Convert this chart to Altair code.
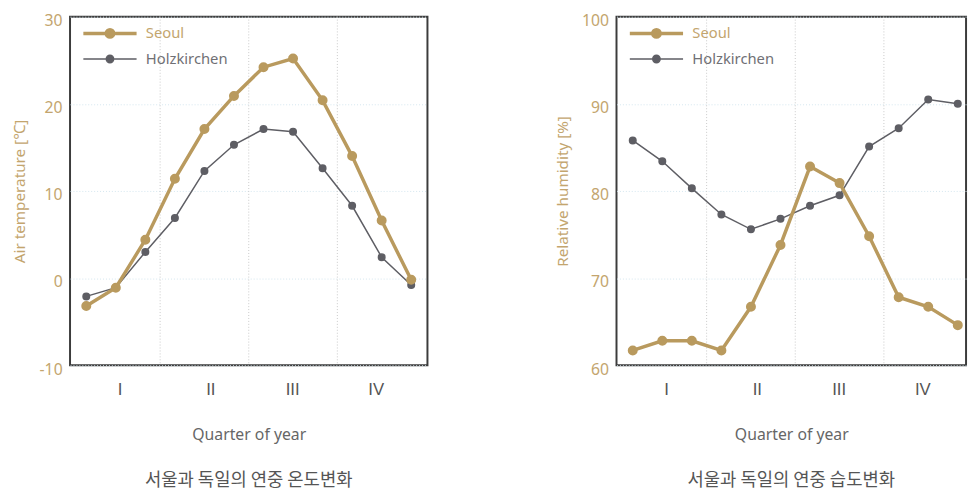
import altair as alt
import pandas as pd

# ---------------- data ----------------
months = list(range(1, 13))
cities = ["Seoul", "Holzkirchen"]
seoul_temp = [-3.2, -1.1, 4.4, 11.4, 17.1, 20.9, 24.2, 25.2, 20.4, 14.0, 6.6, -0.2]
holz_temp = [-2.1, -1.1, 3.0, 6.9, 12.3, 15.3, 17.1, 16.8, 12.6, 8.3, 2.4, -0.8]
seoul_rh = [61.7, 62.8, 62.8, 61.7, 66.7, 73.8, 82.8, 80.9, 74.8, 67.8, 66.7, 64.6]
holz_rh = [85.8, 83.4, 80.3, 77.3, 75.6, 76.8, 78.3, 79.5, 85.1, 87.2, 90.5, 90.0]
temp_ticks = [-10, 0, 10, 20, 30]
rh_ticks = [60, 70, 80, 90, 100]
quarter_labels = ["I", "II", "III", "IV"]
quarter_label_pos = [2.13, 5.2, 7.97, 10.8]
quarter_bounds = [3.5, 6.5, 9.5]
x_title = "Quarter of year"
temp_title = "Air temperature [℃]"
rh_title = "Relative humidity [%]"
temp_caption = "서울과 독일의 연중 온도변화"
rh_caption = "서울과 독일의 연중 습도변화"

# ---------------- style ----------------
GOLD = "#b99a5e"
GOLD_TXT = "#c3a56e"
GRAY = "#5e5e64"
LATIN = "Noto Sans"
KR = "Noto Sans CJK KR"
LEFT_X_DOMAIN = [0.45, 12.55]
RIGHT_X_DOMAIN = [0.45, 12.28]
# legend glyph: a line with a dot in its middle (shifted right so it is not clipped)
LEGEND_PATH = "M-1.5,0H14.8M7.78,0A1.13,1.13,0,1,1,5.52,0A1.13,1.13,0,1,1,7.78,0Z"

label_expr = (
    f"datum.value < {quarter_bounds[0]} ? '{quarter_labels[0]}' : "
    f"datum.value < {quarter_bounds[1]} ? '{quarter_labels[1]}' : "
    f"datum.value < {quarter_bounds[2]} ? '{quarter_labels[2]}' : '{quarter_labels[3]}'"
)


def panel(seoul, holz, ydom, yticks, ytitle, caption, xdom, width):
    df = pd.DataFrame({
        "month": months * 2,
        "value": holz + seoul,
        "city": [cities[1]] * len(months) + [cities[0]] * len(months),
    })
    xscale = alt.Scale(domain=xdom, nice=False, zero=False)
    yscale = alt.Scale(domain=ydom, nice=False, zero=False)
    cscale = alt.Scale(domain=cities, range=[GOLD, GRAY])
    wscale = alt.Scale(domain=cities, range=[3.5, 1.5])
    xaxis = alt.Axis(
        values=quarter_label_pos, labelExpr=label_expr, title=x_title,
        grid=False, ticks=False, domain=False,
        labelFont="Liberation Sans", labelFontSize=17, labelColor="#555555", labelPadding=17,
        titleFont=LATIN, titleFontSize=16, titleFontWeight="normal", titleColor="#666666",
        titlePadding=29,
    )
    yaxis = alt.Axis(
        values=yticks, title=ytitle, grid=True, gridColor="#d3e6ef", gridDash=[1, 2],
        ticks=False, domain=False, labelExpr="toString(datum.value)",
        labelFont=LATIN, labelFontSize=16, labelColor=GOLD_TXT, labelPadding=8, labelOffset=4,
        titleFont=LATIN, titleFontSize=15.5, titleFontWeight="normal", titleColor=GOLD_TXT,
        titlePadding=11.5,
    )
    x = alt.X("month:Q", scale=xscale, axis=xaxis)
    y = alt.Y("value:Q", scale=yscale, axis=yaxis)

    rules = alt.Chart(pd.DataFrame({"month": quarter_bounds})).mark_rule(
        color="#c9c9c9", strokeDash=[1, 2], strokeWidth=1
    ).encode(x=x)

    is_seoul = alt.datum.city == cities[0]
    lines = alt.Chart(df).mark_line().encode(
        x=x, y=y,
        detail="city:N",
        color=alt.condition(is_seoul, alt.value(GOLD), alt.value(GRAY)),
        strokeWidth=alt.condition(is_seoul, alt.value(3.5), alt.value(1.5)),
    )

    legend = alt.Legend(
        title=None, orient="none", legendX=11, legendY=4,
        symbolType=LEGEND_PATH, symbolSize=44,
        labelFont=LATIN, labelFontSize=15,
        labelColor={"expr": f"datum.label == '{cities[0]}' ? '{GOLD_TXT}' : '#707075'"},
        clipHeight=26, rowPadding=0, labelOffset=51, padding=0,
    )
    points = alt.Chart(df).mark_point(filled=True, opacity=1, size=44).encode(
        x=x, y=y,
        color=alt.Color("city:N", scale=cscale, legend=legend),
        stroke=alt.Stroke("city:N", scale=cscale),
        strokeWidth=alt.StrokeWidth("city:N", scale=wscale),
    )

    return alt.layer(rules, lines, points).properties(
        width=width, height=354,
        title=alt.TitleParams(
            text=caption, orient="bottom", anchor="middle", frame="group",
            font=KR, fontSize=18, fontWeight="normal", color="#555555", offset=31,
        ),
    )


left = panel(seoul_temp, holz_temp, [-10, 30], temp_ticks, temp_title, temp_caption,
             LEFT_X_DOMAIN, 363)
right = panel(seoul_rh, holz_rh, [60, 100], rh_ticks, rh_title, rh_caption,
              RIGHT_X_DOMAIN, 355)

chart = alt.hconcat(left, right, spacing=128).resolve_scale(
    color="independent", stroke="independent", strokeWidth="independent"
).resolve_legend(
    color="independent", stroke="independent", strokeWidth="independent"
).properties(
    padding={"left": 4, "top": 0, "right": 0, "bottom": 0}
).configure_view(
    stroke="#3c3c3c", strokeWidth=2
)

chart.save("out.html", embed_options={"renderer": "svg", "actions": False})
